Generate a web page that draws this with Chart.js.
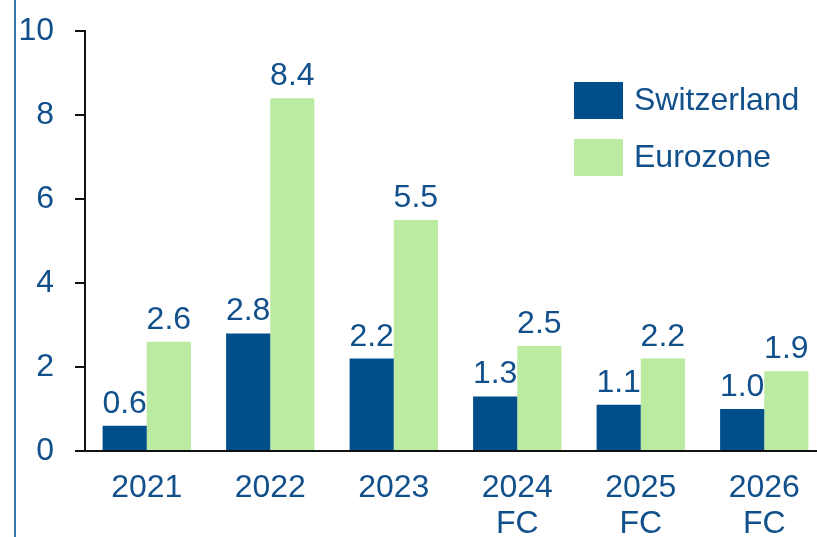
<!DOCTYPE html>
<html>
<head>
<meta charset="utf-8">
<script src="https://cdn.jsdelivr.net/npm/chart.js@4/dist/chart.umd.min.js"></script>
<style>
  html, body { margin: 0; padding: 0; background: #fff; overflow: hidden; }
  #wrap { width: 826px; height: 537px; }
</style>
</head>
<body>
<div id="wrap"><canvas id="grafico"></canvas></div>
<script>
const anos = [['2021'], ['2022'], ['2023'], ['2024', 'FC'], ['2025', 'FC'], ['2026', 'FC']];
const suica = [0.6, 2.8, 2.2, 1.3, 1.1, 1.0];
const eurozona = [2.6, 8.4, 5.5, 2.5, 2.2, 1.9];
const ticksY = [0, 2, 4, 6, 8, 10];

const azulTexto = '#12508c';
const fonte = "'Liberation Sans', Arial, sans-serif";

// rotulos de valor acima das barras
const rotulos = {
    id: 'rotulos',
    afterDatasetsDraw(chart) {
        const ctx = chart.ctx;
        ctx.save();
        ctx.font = '32px ' + fonte;
        ctx.fillStyle = azulTexto;
        ctx.textAlign = 'center';
        ctx.textBaseline = 'alphabetic';
        chart.data.datasets.forEach((ds, i) => {
            chart.getDatasetMeta(i).data.forEach((bar, j) => {
                ctx.fillText(ds.data[j].toFixed(1), bar.x, bar.y - 13);
            });
        });
        ctx.restore();
    }
};

// legenda dentro da area e linha azul da esquerda
const extras = {
    id: 'extras',
    afterDraw(chart) {
        const ctx = chart.ctx;
        ctx.save();
        ctx.fillStyle = '#3a74b0';
        ctx.fillRect(14, 0, 2, chart.height);

        ctx.font = '32px ' + fonte;
        ctx.textBaseline = 'middle';
        chart.data.datasets.forEach((ds, i) => {
            const y = 82 + i * 57;
            ctx.fillStyle = ds.backgroundColor;
            ctx.fillRect(574, y, 49, 37);
            ctx.fillStyle = azulTexto;
            ctx.fillText(ds.label, 634, y + 19);
        });
        ctx.restore();
    }
};

new Chart(document.getElementById('grafico'), {
    type: 'bar',
    data: {
        labels: anos,
        datasets: [
            { label: 'Switzerland', data: suica, backgroundColor: '#004f8b' },
            { label: 'Eurozone', data: eurozona, backgroundColor: '#bbeba0' }
        ]
    },
    options: {
        responsive: true,
        maintainAspectRatio: false,
        animation: false,
        layout: { padding: { left: 0, top: 31, right: 0, bottom: 0 } },
        categoryPercentage: 0.715,
        barPercentage: 1.0,
        plugins: {
            legend: { display: false },
            tooltip: { enabled: false }
        },
        scales: {
            x: {
                afterFit: axis => { axis.height = 86; },
                grid: { display: false, drawTicks: false },
                border: { display: true, color: '#111', width: 2 },
                ticks: {
                    color: azulTexto,
                    padding: 20,
                    font: { family: fonte, size: 32, lineHeight: 1.1 }
                }
            },
            y: {
                min: 0,
                max: 10,
                afterBuildTicks: axis => { axis.ticks = ticksY.map(v => ({ value: v })); },
                afterFit: axis => { axis.width = 85; },
                grid: { drawOnChartArea: false, drawTicks: true, tickLength: 10, color: '#111', lineWidth: 2 },
                border: { display: true, color: '#111', width: 2 },
                ticks: {
                    color: azulTexto,
                    padding: 21,
                    font: { family: fonte, size: 32, lineHeight: 0.6 }
                }
            }
        }
    },
    plugins: [rotulos, extras]
});
</script>
</body>
</html>
